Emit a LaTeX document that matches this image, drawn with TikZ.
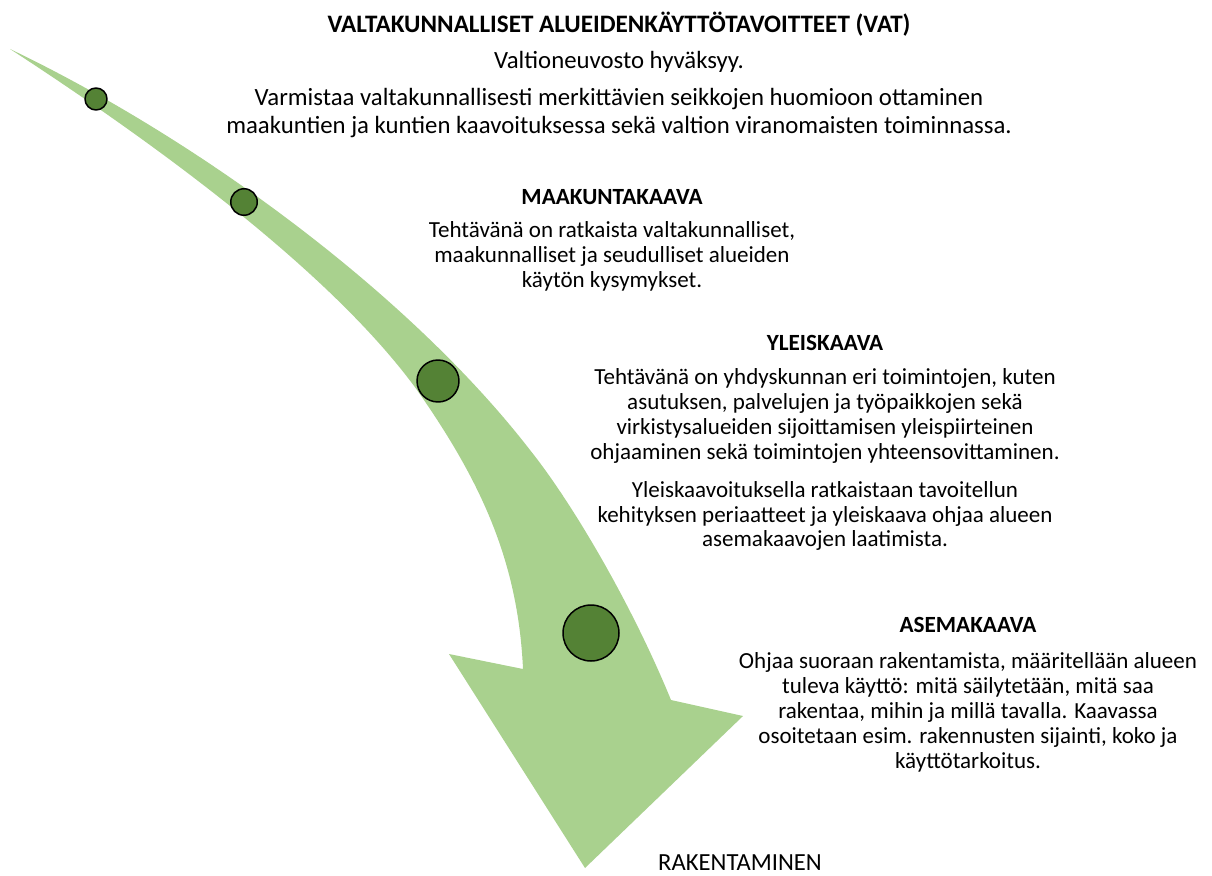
\documentclass[tikz,border=0pt]{standalone}
\usepackage{fontspec}
\setmainfont{Carlito}
\definecolor{lightgreen}{HTML}{A9D18E}
\definecolor{darkgreen}{HTML}{548235}
\begin{document}
\begin{tikzpicture}[x=0.02cm, y=-0.02cm, line join=round,
	head/.style={font=\fontsize{13.2}{14.2}\selectfont\bfseries, inner sep=0pt},
	txt/.style={font=\fontsize{13.1}{14.2}\selectfont, align=center, inner sep=0pt},
	bigtxt/.style={font=\fontsize{14.1}{15.4}\selectfont, align=center, inner sep=0pt},
	dot/.style={circle, draw=black, line width=0.85pt, fill=darkgreen, inner sep=0pt}]
	\useasboundingbox (0,0) rectangle (1212,875);
	% curved arrow
	\fill[lightgreen] (10,49) .. controls (200,140) and (410,295) .. (530,450)
		.. controls (570,500) and (630,600) .. (671,700) -- (743,716) -- (585,868) -- (449,654) -- (523,669)
		.. controls (518,560) and (480,480) .. (417,390)
		.. controls (330,270) and (150,140) .. (10,49) -- cycle;
	\node[dot, minimum size=0.44cm] (vatdot) at (96,99) {};
	\node[dot, minimum size=0.53cm] (maakdot) at (244,202) {};
	\node[dot, minimum size=0.84cm] (yleisdot) at (438,381) {};
	\node[dot, minimum size=1.12cm] (asemadot) at (591,633) {};
	% texts
	\node[head, font=\fontsize{14.3}{15.4}\selectfont\bfseries] (vat) at (619,24) {VALTAKUNNALLISET ALUEIDENKÄYTTÖTAVOITTEET (VAT)};
	\node[bigtxt] (vatA) at (619,62) {Valtioneuvosto hyväksyy.};
	\node[bigtxt] (vatB) at (619,113) {Varmistaa valtakunnallisesti merkittävien seikkojen huomioon ottaminen\\maakuntien ja kuntien kaavoituksessa sekä valtion viranomaisten toiminnassa.};
	\node[head] (maak) at (612,197) {MAAKUNTAKAAVA};
	\node[txt] (maakA) at (612,256) {Tehtävänä on ratkaista valtakunnalliset,\\maakunnalliset ja seudulliset alueiden\\käytön kysymykset.};
	\node[head] (yleis) at (825,343) {YLEISKAAVA};
	\node[txt] (yleisA) at (825,416) {Tehtävänä on yhdyskunnan eri toimintojen, kuten\\asutuksen, palvelujen ja työpaikkojen sekä\\virkistysalueiden sijoittamisen yleispiirteinen\\ohjaaminen sekä toimintojen yhteensovittaminen.};
	\node[txt] (yleisB) at (825,516) {Yleiskaavoituksella ratkaistaan tavoitellun\\kehityksen periaatteet ja yleiskaava ohjaa alueen\\asemakaavojen laatimista.};
	\node[head] (asema) at (968,625) {ASEMAKAAVA};
	\node[txt] (asemaA) at (968,712) {Ohjaa suoraan rakentamista, määritellään alueen\\tuleva käyttö: mitä säilytetään, mitä saa\\rakentaa, mihin ja millä tavalla. Kaavassa\\osoitetaan esim. rakennusten sijainti, koko ja\\käyttötarkoitus.};
	\node[txt, font=\fontsize{14}{15}\selectfont] (rak) at (740,863) {RAKENTAMINEN};
\end{tikzpicture}
\end{document}
